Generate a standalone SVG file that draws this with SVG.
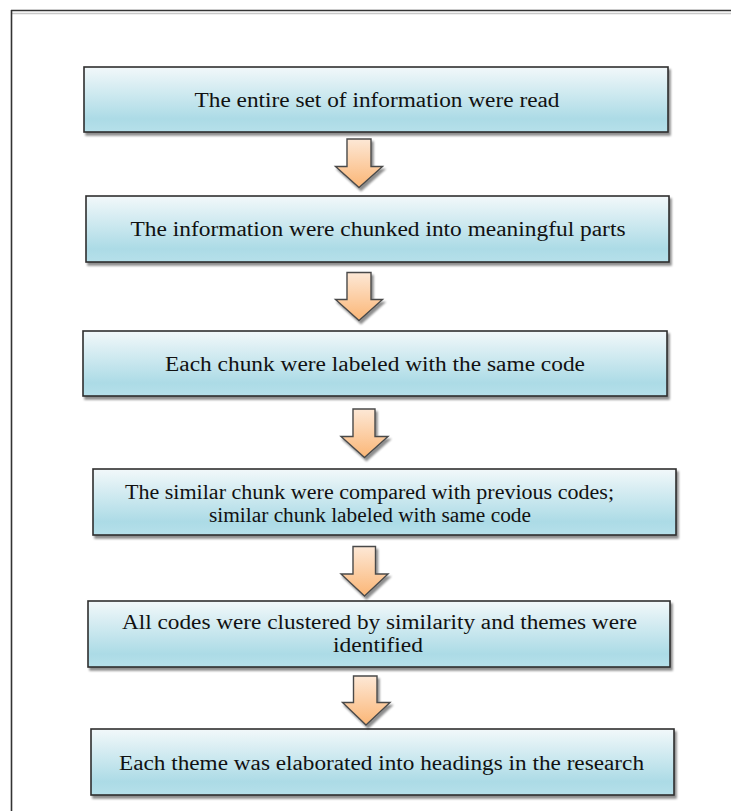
<svg xmlns="http://www.w3.org/2000/svg" width="731" height="811" viewBox="0 0 731 811">
<defs>
<linearGradient id="boxg" x1="0" y1="0" x2="0" y2="1">
<stop offset="0" stop-color="#f2f8fa"/>
<stop offset="0.8" stop-color="#acdbe6"/>
<stop offset="1" stop-color="#b6e0ea"/>
</linearGradient>
<linearGradient id="arrg" x1="0" y1="0" x2="0" y2="1">
<stop offset="0" stop-color="#fde8d6"/>
<stop offset="1" stop-color="#fbb676"/>
</linearGradient>
<filter id="sh" x="-10%" y="-10%" width="120%" height="130%">
<feGaussianBlur in="SourceAlpha" stdDeviation="1.2"/>
<feOffset dx="1.5" dy="2.5" result="b"/>
<feComponentTransfer><feFuncA type="linear" slope="0.45"/></feComponentTransfer>
<feMerge><feMergeNode/><feMergeNode in="SourceGraphic"/></feMerge>
</filter>
</defs>
<style>
.box{fill:url(#boxg);stroke:#2e2e2e;stroke-width:1.6;filter:url(#sh)}
.arr{fill:url(#arrg);stroke:#4a4a4a;stroke-width:1.4;stroke-linejoin:miter;filter:url(#sh)}
.t{font-family:'Liberation Serif','DejaVu Serif','Times New Roman',serif;font-size:20px;fill:#111;text-anchor:middle}
</style>
<rect width="731" height="811" fill="#fff"/>
<g id="frame">
<line x1="11" y1="10.5" x2="731" y2="10.5" stroke="#333" stroke-width="1.6"/>
<line x1="12" y1="13.5" x2="731" y2="13.5" stroke="#c8c8c8" stroke-width="1.5"/>
<line x1="11.5" y1="10" x2="11.5" y2="811" stroke="#333" stroke-width="1.6"/>
</g>
<g id="n1"><rect class="box" x="84" y="67" width="584" height="65"/>
<text class="t" font-family="Liberation Serif, serif" x="377" y="107" textLength="365" lengthAdjust="spacingAndGlyphs">The entire set of information were read</text></g>
<g id="n2"><rect class="box" x="86" y="196" width="583" height="66"/>
<text class="t" x="378" y="236" textLength="495" lengthAdjust="spacingAndGlyphs">The information were chunked into meaningful parts</text></g>
<g id="n3"><rect class="box" x="83" y="331" width="584" height="65"/>
<text class="t" x="375" y="371" textLength="420" lengthAdjust="spacingAndGlyphs">Each chunk were labeled with the same code</text></g>
<g id="n4"><rect class="box" x="93" y="469" width="583" height="66"/>
<text class="t" x="369.5" y="499" textLength="489" lengthAdjust="spacingAndGlyphs">The similar chunk were compared with previous codes;</text>
<text class="t" x="370" y="522" textLength="322" lengthAdjust="spacingAndGlyphs">similar chunk labeled with same code</text></g>
<g id="n5"><rect class="box" x="88" y="601" width="582" height="66"/>
<text class="t" x="379.5" y="629" textLength="515" lengthAdjust="spacingAndGlyphs">All codes were clustered by similarity and themes were</text>
<text class="t" x="378" y="652" textLength="90" lengthAdjust="spacingAndGlyphs">identified</text></g>
<g id="n6"><rect class="box" x="91" y="729" width="583" height="66"/>
<text class="t" x="381.5" y="770" textLength="525" lengthAdjust="spacingAndGlyphs">Each theme was elaborated into headings in the research</text></g>
<g id="connectors">
<path class="arr" d="M347 139 H371 V166.5 H382.5 L359 187.5 L335.5 166.5 H347 Z"/>
<path class="arr" d="M347 272.5 H371 V299.5 H382.5 L359 320.5 L335.5 299.5 H347 Z"/>
<path class="arr" d="M353 409 H375 V436.5 H388 L364.5 457.5 L341 436.5 H353 Z"/>
<path class="arr" d="M353 546.5 H375.5 V574 H388 L364.5 596 L341 574 H353 Z"/>
<path class="arr" d="M353.5 676 H377 V702.5 H390 L366 725 L342.5 702.5 H353.5 Z"/>
</g>
</svg>
